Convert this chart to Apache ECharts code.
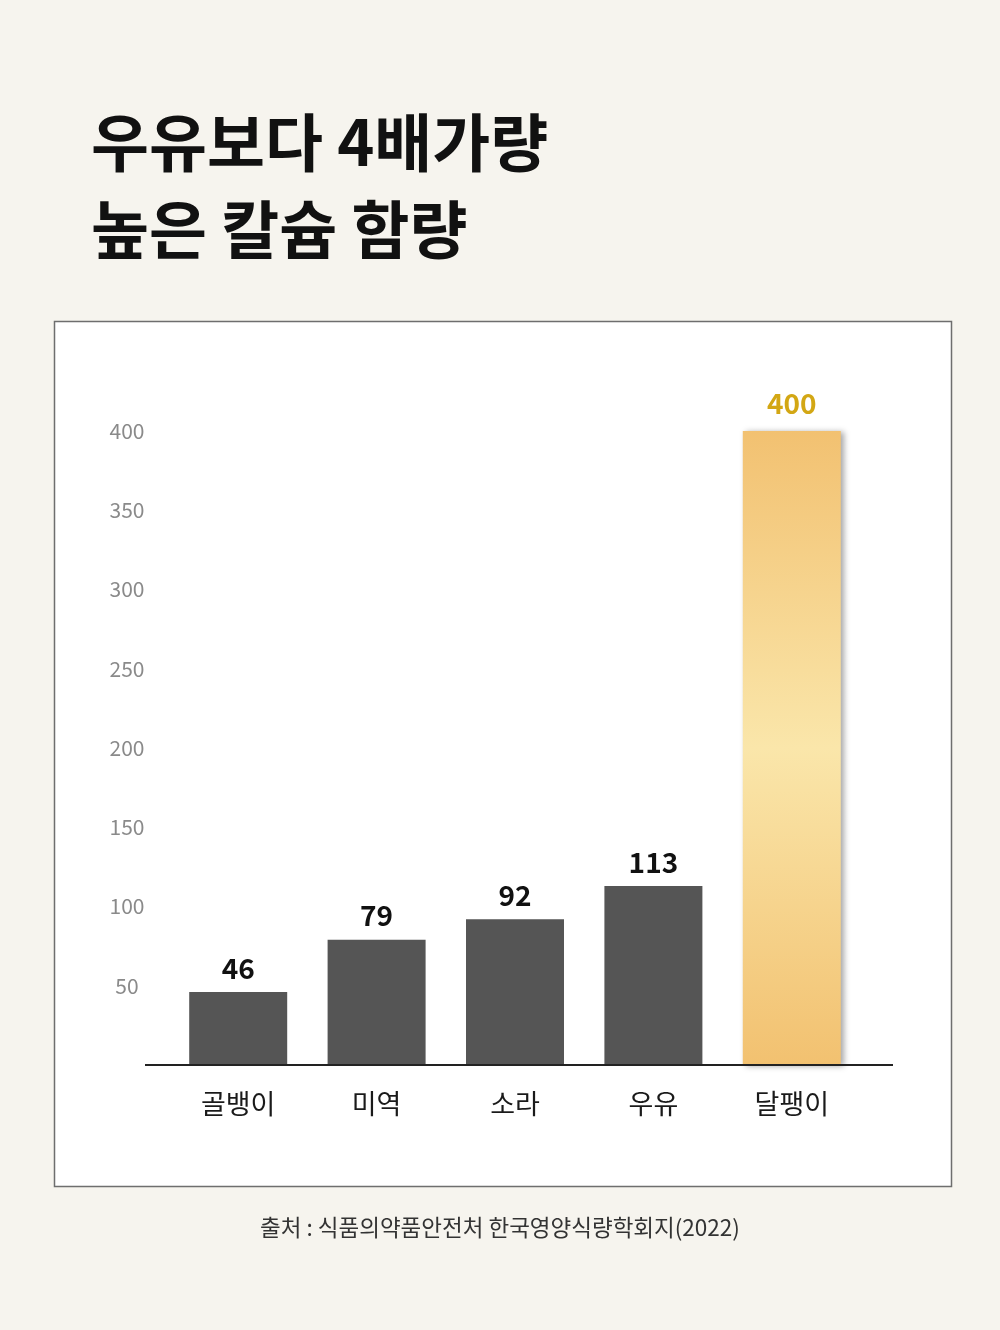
<!DOCTYPE html>
<html>
<head>
<meta charset="utf-8">
<script src="https://cdn.jsdelivr.net/npm/echarts@6/dist/echarts.min.js"></script>
<style>
html,body{margin:0;padding:0;background:#f6f4ee;}
#c{width:1000px;height:1330px;}
</style>
</head>
<body>
<div id="c"></div>
<script>
var titleLines = ['우유보다 4배가량', '높은 칼슘 함량'];
var sourceText = '출처 : 식품의약품안전처 한국영양식량학회지(2022)';
var categories = ['골뱅이', '미역', '소라', '우유', '달팽이'];
var values = [46, 79, 92, 113, 400];
var highlightIndex = 4;
var yMax = 400;
var yInterval = 50;

var FONT = '"Noto Sans CJK KR", "Noto Sans", sans-serif';
var chart = echarts.init(document.getElementById('c'));

var gold = new echarts.graphic.LinearGradient(0, 0, 0, 1, [
  {offset: 0, color: '#f2c171'},
  {offset: 0.5, color: '#fae6aa'},
  {offset: 1, color: '#f2c170'}
]);

var seriesData = values.map(function (v, i) {
  if (i === highlightIndex) {
    return {
      value: v,
      itemStyle: {color: gold, shadowColor: 'rgba(0,0,0,0.35)', shadowBlur: 6, shadowOffsetX: 3, shadowOffsetY: 1},
      label: {color: '#d3a714', distance: 14}
    };
  }
  return v;
});

chart.setOption({
  backgroundColor: '#f6f4ee',
  animation: false,
  title: [
    {
      text: titleLines.join('\n'),
      left: 86, top: 94,
      textStyle: {fontFamily: FONT, fontSize: 63, fontWeight: 'bold', color: '#111', lineHeight: 87}
    },
    {
      text: sourceText,
      left: 'center', top: 1211,
      textStyle: {fontFamily: FONT, fontSize: 22.5, fontWeight: 'normal', color: '#333'}
    }
  ],
  graphic: [
    {
      type: 'rect', z: -10, silent: true,
      shape: {x: 54.5, y: 321.5, width: 897, height: 865},
      style: {fill: '#ffffff', stroke: '#6e6e6e', lineWidth: 1.5}
    },
    {
      type: 'line', z: 10, silent: true,
      shape: {x1: 145, y1: 1065, x2: 893, y2: 1065},
      style: {stroke: '#222', lineWidth: 2}
    }
  ],
  grid: {left: 169, right: 139, top: 431, bottom: 265, containLabel: false},
  xAxis: {
    type: 'category',
    data: categories,
    axisLine: {show: false},
    axisTick: {show: false},
    axisLabel: {fontFamily: FONT, fontSize: 27, color: '#1a1a1a', margin: 25}
  },
  yAxis: {
    type: 'value',
    min: 0, max: yMax, interval: yInterval,
    splitLine: {show: false},
    axisLine: {show: false},
    axisTick: {show: false},
    axisLabel: {
      fontFamily: FONT, fontSize: 21, color: '#8a8a8a', align: 'center', margin: 42,
      formatter: function (v) { return v === 0 ? '' : String(v); }
    }
  },
  series: [{
    type: 'bar',
    data: seriesData,
    barWidth: 98,
    itemStyle: {color: '#555555'},
    label: {
      show: true, position: 'top', distance: 10,
      fontFamily: FONT, fontSize: 28, fontWeight: 'bold', color: '#111'
    }
  }]
});
</script>
</body>
</html>
